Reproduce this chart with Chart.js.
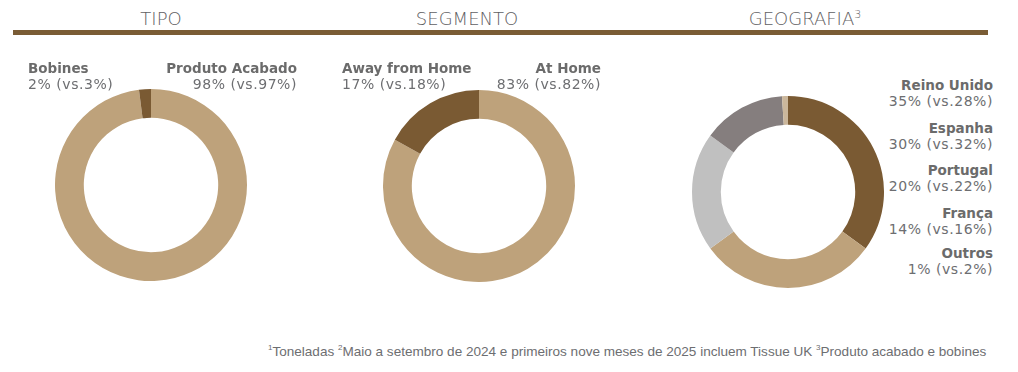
<!DOCTYPE html>
<html>
<head>
<meta charset="utf-8">
<script src="https://cdn.jsdelivr.net/npm/chart.js@4/dist/chart.umd.min.js"></script>
<style>
  body { margin: 0; width: 1018px; height: 372px; background: #fff; position: relative; overflow: hidden; font-family: "DejaVu Sans", Verdana, sans-serif; }
  .titulo { position: absolute; top: 8px; font-size: 18px; font-weight: 200; color: #5f6063; transform: translateX(-50%); white-space: nowrap; }
  .titulo sup { font-size: 11px; vertical-align: 7px; line-height: 0; }
  .linha { position: absolute; left: 13px; top: 30px; width: 975px; height: 5px; background: #7a5c35; }
  .rot { position: absolute; font-size: 14px; line-height: 16px; color: #6d6e71; white-space: nowrap; letter-spacing: 0.55px; }
  .rot b { color: #6b6b6b; font-size: 13.5px; letter-spacing: 0; }
  .dir { text-align: right; transform: translateX(-100%); }
  canvas { position: absolute; }
  .nota { position: absolute; left: 268px; top: 343px; font-family: "Liberation Sans Narrow", "Arial Narrow", "Liberation Sans", sans-serif; font-size: 13.55px; color: #6d6e71; white-space: nowrap; }
  .nota sup { font-size: 8px; }
</style>
</head>
<body>
<div class="titulo" style="left:161px">TIPO</div>
<div class="titulo" style="left:467px">SEGMENTO</div>
<div class="titulo" style="left:805px">GEOGRAFIA<sup>3</sup></div>
<div class="linha"></div>

<canvas id="chartTipo" width="192" height="192" style="left:55px;top:89px"></canvas>
<canvas id="chartSegmento" width="192" height="192" style="left:383px;top:90px"></canvas>
<canvas id="chartGeografia" width="192" height="192" style="left:692px;top:96px"></canvas>

<div id="rotulos"></div>

<div class="nota"><sup>1</sup>Toneladas <sup>2</sup>Maio a setembro de 2024 e primeiros nove meses de 2025 incluem Tissue UK <sup>3</sup>Produto acabado e bobines</div>

<script>
// dados (em %), ordem no sentido horário a partir do topo
const tipoLabels = ['Produto Acabado', 'Bobines'];
const tipoValores = [98, 2];
const tipoAnterior = [97, 3];

const segmentoLabels = ['At Home', 'Away from Home'];
const segmentoValores = [83, 17];
const segmentoAnterior = [82, 18];

const geoLabels = ['Reino Unido', 'Espanha', 'Portugal', 'França', 'Outros'];
const geoValores = [35, 30, 20, 14, 1];
const geoAnterior = [28, 32, 22, 16, 2];

const CASTANHO = '#7a5a33';
const BEGE = '#bea27b';

function criarDonut(id, labels, valores, cores) {
  return new Chart(document.getElementById(id), {
    type: 'doughnut',
    data: {
      labels: labels,
      datasets: [{ data: valores, backgroundColor: cores, borderWidth: 0 }]
    },
    options: {
      responsive: false,
      animation: false,
      cutout: '70%',
      layout: { padding: 0 },
      plugins: { legend: { display: false }, tooltip: { enabled: false } }
    }
  });
}

criarDonut('chartTipo', tipoLabels, tipoValores, [BEGE, CASTANHO]);
criarDonut('chartSegmento', segmentoLabels, segmentoValores, [BEGE, CASTANHO]);
criarDonut('chartGeografia', geoLabels, geoValores, [CASTANHO, BEGE, '#c0c0c0', '#857e7e', '#cbb79c']);

// rótulos: [nome, valor, anterior, x, y, alinhado à direita]
const rotulos = [
  [tipoLabels[1], tipoValores[1], tipoAnterior[1], 28, 60, false],
  [tipoLabels[0], tipoValores[0], tipoAnterior[0], 297, 60, true],
  [segmentoLabels[1], segmentoValores[1], segmentoAnterior[1], 342, 60, false],
  [segmentoLabels[0], segmentoValores[0], segmentoAnterior[0], 601, 60, true],
];
const geoY = [77, 120, 162, 205, 245];
geoLabels.forEach((l, i) => rotulos.push([l, geoValores[i], geoAnterior[i], 993, geoY[i], true]));

const cont = document.getElementById('rotulos');
rotulos.forEach(([nome, v, ant, x, y, dir]) => {
  const d = document.createElement('div');
  d.className = 'rot' + (dir ? ' dir' : '');
  d.style.left = x + 'px';
  d.style.top = y + 'px';
  d.innerHTML = '<b>' + nome + '</b><br>' + v + '% (vs.' + ant + '%)';
  cont.appendChild(d);
});
</script>
</body>
</html>
